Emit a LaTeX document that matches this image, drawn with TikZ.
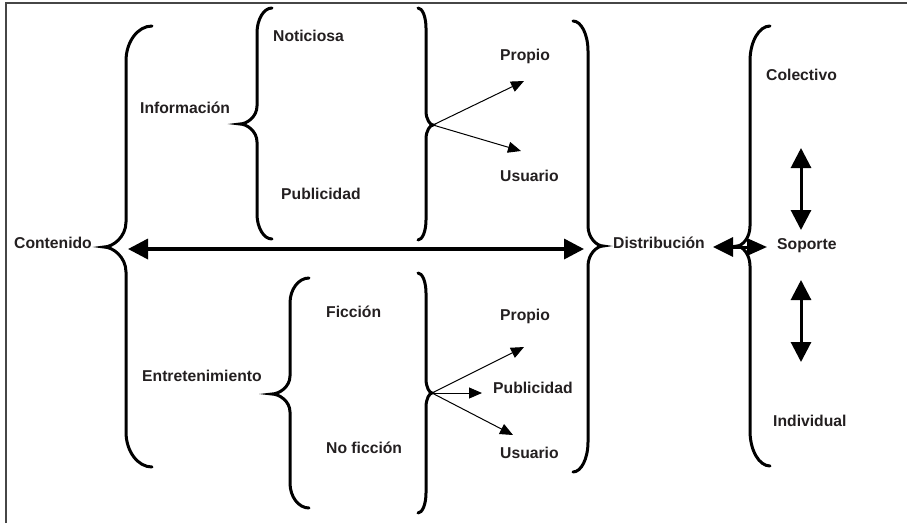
\documentclass[tikz,border=0pt]{standalone}
\usepackage{fontspec}
\setmainfont{Liberation Sans}
\usetikzlibrary{arrows.meta}
\definecolor{txt}{RGB}{35,31,32}
\definecolor{frm}{RGB}{70,70,70}
\newcommand{\BraceShape}[8]{%
  \draw[brc] (#1,#2) .. controls ({#3+(#1-#3)*0.45},#2) and (#3,{#2+#7*0.45}) .. (#3,{#2+#7})
   -- (#3,{#5-#8}) .. controls (#3,{#5-#8*0.4}) and ({#4+(#3-#4)*0.4},#5) .. (#4,#5)
   .. controls ({#4+(#3-#4)*0.4},#5) and (#3,{#5+#8*0.4}) .. (#3,{#5+#8})
   -- (#3,{#6-#7}) .. controls (#3,{#6-#7*0.45}) and ({#3+(#1-#3)*0.45},#6) .. (#1,#6);}
\tikzset{
  brc/.style={line width=3pt, line cap=round},
  lbl/.style={anchor=base west, inner sep=0pt, text=txt, font=\fontsize{15.7}{18}\selectfont\bfseries},
  thinarrow/.style={line width=1pt, -{Triangle[length=13pt,width=11pt]}},
  bigdbl/.style={line width=3.5pt, {Triangle[length=20pt,width=20pt]}-{Triangle[length=20pt,width=20pt]}},
}
\begin{document}
\begin{tikzpicture}[x=1pt,y=-1pt]
\useasboundingbox (0,0) rectangle (907,523);
\draw[frm, line width=1.5pt] (6,523) -- (6,3) -- (907,3);

% braces
\BraceShape{152}{26}{126}{104}{247}{467}{35}{25}
\BraceShape{272}{8}{257}{240}{124}{239}{25}{18}
\BraceShape{418}{8}{426}{433}{125}{240}{20}{14}
\BraceShape{573}{21}{588}{603}{246}{472}{30}{20}
\BraceShape{309}{278}{290}{272}{394}{508}{25}{18}
\BraceShape{418}{273}{426}{432}{393}{513}{20}{14}
\BraceShape{770}{26}{750}{737}{246}{466}{35}{20}

% labels
\node[lbl] (contenido) at (14,248.6) {Contenido};
\node[lbl] (informacion) at (140,113.6) {Información};
\node[lbl] (noticiosa) at (273,41.6) {Noticiosa};
\node[lbl] (publi1) at (281,199.6) {Publicidad};
\node[lbl] (propio1) at (500,60) {Propio};
\node[lbl] (usuario1) at (500,181.6) {Usuario};
\node[lbl] (distribucion) at (613,248.6) {Distribución};
\node[lbl] (colectivo) at (766,80.6) {Colectivo};
\node[lbl] (soporte) at (777,249.6) {Soporte};
\node[lbl] (individual) at (773,426.6) {Individual};
\node[lbl] (entre) at (142,381.6) {Entretenimiento};
\node[lbl] (ficcion) at (326,317.6) {Ficción};
\node[lbl] (noficcion) at (326,453.6) {No ficción};
\node[lbl] (propio2) at (500,320) {Propio};
\node[lbl] (publi2) at (493,393.6) {Publicidad};
\node[lbl] (usuario2) at (500,458.6) {Usuario};

% connector points
\coordinate (tipI) at (433,125);
\coordinate (tipE) at (432,393);
\coordinate (aP1) at (524,81);
\coordinate (aU1) at (521,151);
\coordinate (aP2) at (524,347);
\coordinate (aB2) at (482,393);
\coordinate (aU2) at (513,435);
\coordinate (mainL) at (128,249);
\coordinate (mainR) at (584,249);
\coordinate (dsL) at (713,247);
\coordinate (dsR) at (767,247);
\coordinate (v1a) at (801,148);
\coordinate (v1b) at (801,230);
\coordinate (v2a) at (801,280);
\coordinate (v2b) at (801,362);

\draw[thinarrow] (tipI) -- (aP1);
\draw[thinarrow] (tipI) -- (aU1);
\draw[thinarrow] (tipE) -- (aP2);
\draw[thinarrow] (tipE) -- (aB2);
\draw[thinarrow] (tipE) -- (aU2);

\draw[bigdbl] (mainL) -- (mainR);
\draw[line width=3pt, {Triangle[length=20pt,width=19pt]}-{Triangle[length=20pt,width=17pt]}] (dsL) -- (dsR);
\draw[line width=3pt, {Triangle[length=20pt,width=20pt]}-{Triangle[length=20pt,width=20pt]}] (v1a) -- (v1b);
\draw[line width=3pt, {Triangle[length=20pt,width=20pt]}-{Triangle[length=20pt,width=20pt]}] (v2a) -- (v2b);
\end{tikzpicture}
\end{document}
